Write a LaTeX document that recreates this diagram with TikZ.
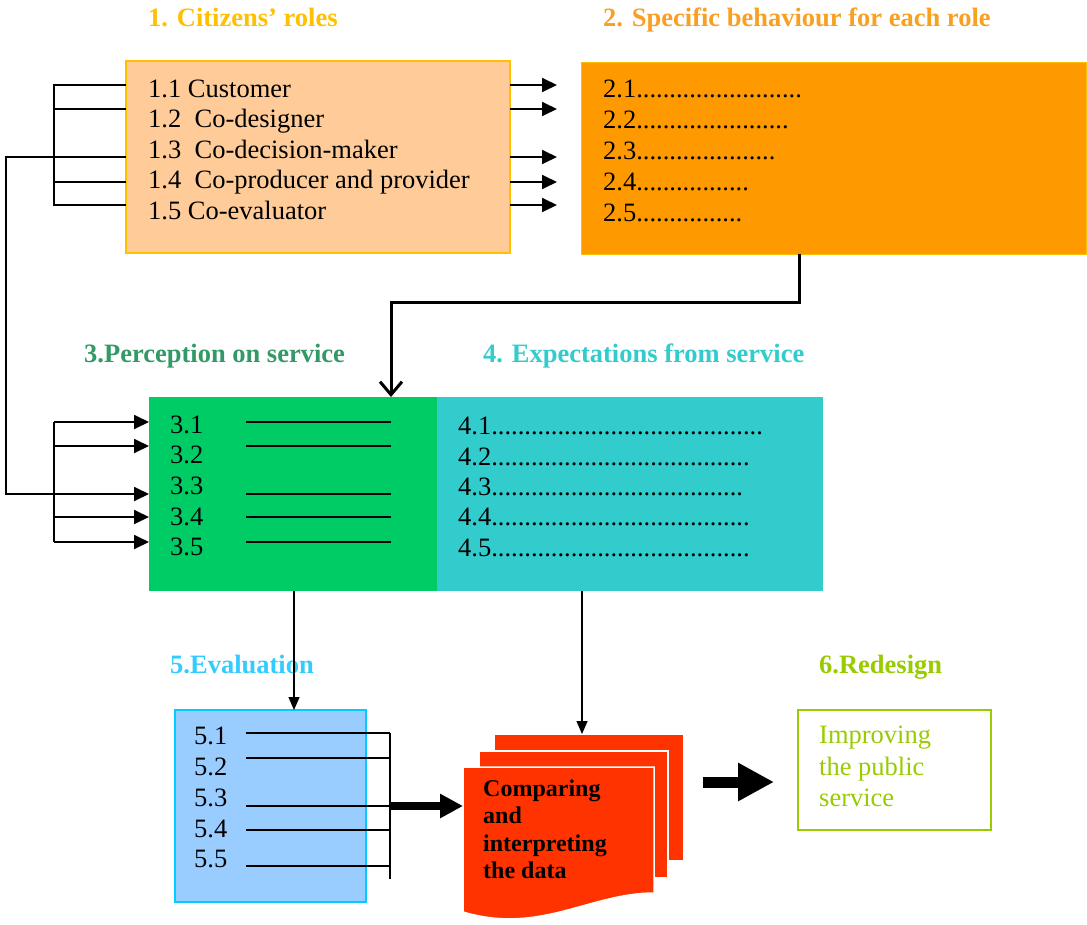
\documentclass[tikz,border=0pt]{standalone}
\usepackage{fontspec}
\setmainfont{Liberation Serif}
\usetikzlibrary{arrows.meta}
\newcount\mydotcnt
\newcommand\mydots[1]{\mydotcnt=0\relax\loop\ifnum\mydotcnt<#1 .\advance\mydotcnt by 1\relax\repeat}
\definecolor{peach}{HTML}{FFCC99}
\definecolor{gold}{HTML}{FFC000}
\definecolor{orangeA}{HTML}{FF9900}
\definecolor{orangeT}{HTML}{F9A023}
\definecolor{greenT}{HTML}{339966}
\definecolor{greenB}{HTML}{00CC66}
\definecolor{tealB}{HTML}{33CCCC}
\definecolor{bluT}{HTML}{33CCFF}
\definecolor{bluB}{HTML}{99CCFF}
\definecolor{bluE}{HTML}{00CCFF}
\definecolor{docred}{HTML}{FF3300}
\definecolor{limeG}{HTML}{99CC00}
\begin{document}
\begin{tikzpicture}[x=1pt,y=-1pt,
  box/.style={rectangle, inner sep=0pt, outer sep=0pt, anchor=north west},
  txt/.style={anchor=base west, inner sep=0pt, font=\fontsize{26.5}{30}\selectfont},
  ttl/.style={anchor=base west, inner sep=0pt, font=\fontsize{26.5}{30}\selectfont\bfseries},
  doctxt/.style={anchor=base west, inner sep=0pt, font=\fontsize{24}{27}\selectfont\bfseries},
  conn/.style={line width=1.8pt, black},
  arr/.style={conn, -{Triangle[length=15pt,width=14pt]}},
  thinarr/.style={line width=1.3pt, black, -{Triangle[length=13pt,width=11pt]}},
  barbarr/.style={line width=3pt, black, -{Straight Barb[length=13pt,width=22pt]}},
  fatarr/.style={line width=11pt, black, -{Triangle[length=36pt,width=36pt]}},
  midarr/.style={line width=8pt, black, -{Triangle[length=23pt,width=23pt]}},
  inline/.style={line width=1.8pt, black}
]
\fill[white] (0,0) rectangle (1087,924);
\useasboundingbox (0,0) rectangle (1087,924);

% ---------- boxes ----------
\node[box, minimum width=384, minimum height=192, fill=peach, draw=gold, line width=1.5pt] (b1) at (126,61) {};
\node[box, minimum width=505, minimum height=192, fill=orangeA, draw=gold, line width=1pt] (b2) at (581,62) {};
\node[box, minimum width=288, minimum height=194, fill=greenB] (b3) at (149,397) {};
\node[box, minimum width=386, minimum height=194, fill=tealB] (b4) at (437,397) {};
\node[box, minimum width=191, minimum height=192, fill=bluB, draw=bluE, line width=2pt] (b5) at (175,710) {};
\node[box, minimum width=193, minimum height=120, fill=white, draw=limeG, line width=2pt] (b6) at (798,710) {};
\node[box, minimum width=190, minimum height=127, fill=docred, draw=white, line width=1.5pt] (docb) at (494,734) {};
\node[box, minimum width=189, minimum height=127, fill=docred, draw=white, line width=1.5pt] (docm) at (479,751) {};
\node[box, minimum width=191, minimum height=126] (docf) at (463,767) {};
\filldraw[fill=docred, draw=white, line width=1.5pt]
  (docf.north west) -- (docf.north east) -- (docf.south east)
  .. controls (590,893) and (540,935) .. (463,912) -- cycle;

% ---------- titles ----------
\node[ttl, text=gold] (h1) at (148,26) {1. Citizens’ roles};
\node[ttl, text=orangeT] (h2) at (603,26) {2. Specific behaviour for each role};
\node[ttl, text=greenT] (h3) at (84,362) {3.Perception on service};
\node[ttl, text=tealB] (h4) at (483,362) {4. Expectations from service};
\node[ttl, text=bluT] (h5) at (170,673) {5.Evaluation};
\node[ttl, text=limeG] (h6) at (819,673) {6.Redesign};

% ---------- box 1 texts ----------
\node[txt] (t11) at (148,97) {1.1 Customer};
\node[txt] (t12) at (148,127.5) {1.2\ \ Co-designer};
\node[txt] (t13) at (148,158) {1.3\ \ Co-decision-maker};
\node[txt] (t14) at (148,188.5) {1.4\ \ Co-producer and provider};
\node[txt] (t15) at (148,219) {1.5 Co-evaluator};

% ---------- box 2 texts ----------
\node[txt] (t21) at (603,97.5) {2.1\mydots{25}};
\node[txt] (t22) at (603,128.5) {2.2\mydots{23}};
\node[txt] (t23) at (603,159) {2.3\mydots{21}};
\node[txt] (t24) at (603,190) {2.4\mydots{17}};
\node[txt] (t25) at (603,221) {2.5\mydots{16}};

% ---------- box 3 texts ----------
\node[txt] (t31) at (170,433) {3.1};
\node[txt] (t32) at (170,463.5) {3.2};
\node[txt] (t33) at (170,494) {3.3};
\node[txt] (t34) at (170,525) {3.4};
\node[txt] (t35) at (170,555.5) {3.5};

% ---------- box 4 texts ----------
\node[txt] (t41) at (458,434) {4.1\mydots{41}};
\node[txt] (t42) at (458,465) {4.2\mydots{39}};
\node[txt] (t43) at (458,495) {4.3\mydots{38}};
\node[txt] (t44) at (458,525.5) {4.4\mydots{39}};
\node[txt] (t45) at (458,556) {4.5\mydots{39}};

% ---------- box 5 texts ----------
\node[txt] (t51) at (194,744.5) {5.1};
\node[txt] (t52) at (194,775.5) {5.2};
\node[txt] (t53) at (194,806) {5.3};
\node[txt] (t54) at (194,837) {5.4};
\node[txt] (t55) at (194,867.5) {5.5};

% ---------- document texts ----------
\node[doctxt] (d1) at (483,796) {Comparing};
\node[doctxt] (d2) at (483,823.5) {and};
\node[doctxt] (d3) at (483,851) {interpreting};
\node[doctxt] (d4) at (483,878) {the data};

% ---------- box 6 texts ----------
\node[txt, text=limeG] (g1) at (819,743) {Improving};
\node[txt, text=limeG] (g2) at (819,775) {the public};
\node[txt, text=limeG] (g3) at (819,806) {service};

% ---------- row coordinates ----------
\coordinate (r1) at (0,85);  \coordinate (r2) at (0,109); \coordinate (r3) at (0,157);
\coordinate (r4) at (0,182); \coordinate (r5) at (0,205);
\coordinate (s1) at (0,422); \coordinate (s2) at (0,446); \coordinate (s3) at (0,494);
\coordinate (s4) at (0,517); \coordinate (s5) at (0,542);
\coordinate (e1) at (0,733); \coordinate (e2) at (0,758); \coordinate (e3) at (0,806);
\coordinate (e4) at (0,830); \coordinate (e5) at (0,866); \coordinate (e6) at (0,879);
\coordinate (bx) at (54,0);  \coordinate (fx) at (6,0);
\coordinate (lx0) at (246,0); \coordinate (lx) at (391,0); \coordinate (ex) at (390,0);
\coordinate (k) at (799,302);
\coordinate (dx3) at (294,0); \coordinate (dx4) at (582,0);
\coordinate (fa) at (0,782);

% ---------- box 1 -> box 2 ----------
\foreach \r in {r1,r2,r3,r4,r5}
  \draw[arr, shorten >=24pt] (b1.east |- \r) -- (b2.west |- \r);

% ---------- bracket on box 1 ----------
\draw[conn] (b1.west |- r1) -- (bx |- r1) -- (bx |- r5) -- (b1.west |- r5);
\draw[conn] (b1.west |- r2) -- (bx |- r2);
\draw[conn] (b1.west |- r4) -- (bx |- r4);

% ---------- 1.3 -> 3.3 ----------
\draw[arr] (b1.west |- r3) -- (fx |- r3) -- (fx |- s3) -- (b3.west |- s3);

% ---------- bracket on box 3 ----------
\draw[conn] (bx |- s1) -- (bx |- s5);
\foreach \s in {s1,s2,s4,s5}
  \draw[arr] (bx |- \s) -- (b3.west |- \s);

% ---------- lines inside box 3 ----------
\foreach \s in {s1,s2,s3,s4,s5}
  \draw[inline] (lx0 |- \s) -- (lx |- \s);

% ---------- box 2 -> box 3 ----------
\draw[barbarr] (b2.south -| k) -- (k) -| (b3.north -| lx);

% ---------- box 3 -> box 5, box 4 -> documents ----------
\draw[thinarr] (b3.south -| dx3) -- (b5.north -| dx3);
\draw[thinarr] (b4.south -| dx4) -- (docb.north -| dx4);

% ---------- lines inside box 5 ----------
\foreach \e in {e1,e2,e3,e4,e5}
  \draw[inline] (lx0 |- \e) -- (ex |- \e);
\draw[inline] (ex |- e1) -- (ex |- e6);

% ---------- box 5 -> documents ----------
\draw[midarr] (ex |- e3) -- (docf.west |- e3);

% ---------- documents -> box 6 ----------
\draw[fatarr, shorten <=19pt, shorten >=24pt] (docb.east |- fa) -- (b6.west |- fa);
\end{tikzpicture}
\end{document}
